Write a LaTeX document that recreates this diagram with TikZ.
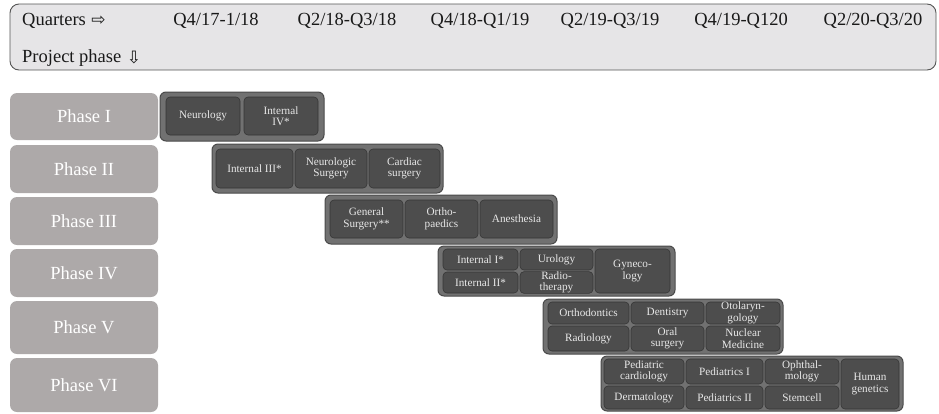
\documentclass[tikz,border=0pt]{standalone}
\usepackage{fontspec}
\setmainfont{Liberation Serif}
\newfontfamily\arrowfont{DejaVu Sans}
\usepackage{tikz}
\usepackage{xcolor}
\usetikzlibrary{positioning}

\definecolor{headfill}{HTML}{E6E5E7}
\definecolor{headline}{HTML}{555555}
\definecolor{phasefill}{HTML}{ADA9A9}
\definecolor{grpfill}{HTML}{717171}
\definecolor{grpline}{HTML}{4A4A4A}
\definecolor{cellfill}{HTML}{4D4D4D}
\definecolor{cellline}{HTML}{363636}
\definecolor{celltext}{HTML}{E8E8E8}

\begin{document}
\begin{tikzpicture}[x=1pt, y=-1pt,
    box/.style args={#1/#2/#3/#4}{minimum width={(#3-#1)*1pt}, minimum height={(#4-#2)*1pt},
        anchor=center, at={({(#1+#3)/2},{(#2+#4)/2})}},
    head/.style={draw=headline, fill=headfill, rounded corners=9pt, line width=0.9pt, inner sep=0pt},
    htext/.style={text=black!90, font=\fontsize{18.5}{20}\selectfont, inner sep=0pt},
    harrow/.style={font=\arrowfont\fontsize{17}{17}\selectfont},
    phase/.style={fill=phasefill, rounded corners=7pt, inner sep=0pt, text=white,
        font=\fontsize{18.5}{20}\selectfont},
    grp/.style={draw=grpline, fill=grpfill, rounded corners=6pt, line width=1pt, inner sep=0pt},
    cell/.style={draw=cellline, fill=cellfill, rounded corners=4pt, line width=0.6pt, inner sep=0pt,
        text=celltext, align=center, font=\fontsize{11.2}{11.5}\selectfont}]
\useasboundingbox (0,0) rectangle (939,413);

% header with the quarters
\node[head, box=10/4/936/70] (hdr) {};
\node[htext, anchor=west] (quarters) at (22,21) {Quarters};
\node[htext, harrow, right=5pt of quarters] (qarrow) {⇨};
\node[htext, anchor=west] (projphase) at (22,58) {Project phase};
\node[htext, harrow, right=5pt of projphase] (parrow) {⇩};
\foreach \i/\cx/\t in {1/216/{Q4/17-1/18}, 2/347/{Q2/18-Q3/18}, 3/480/{Q4/18-Q1/19},
                       4/610/{Q2/19-Q3/19}, 5/741/{Q4/19-Q120}, 6/873/{Q2/20-Q3/20}}
    \node[htext] (q\i) at (\cx,21) {\t};

% phase labels
\foreach \i/\ya/\yb/\t in {1/93/140/I, 2/145/193/II, 3/197/245/III,
                           4/249/297/IV, 5/301/354/V, 6/358/412/VI}
    \node[phase, box=10/\ya/158/\yb] (ph\i) {Phase \t};

% Phase I
\node[grp, box=160/92/324/141] (g1) {};
\foreach \n/\xa/\xb/\t in {neuro/166/240/Neurology, intiv/244/318/{Internal\\IV*}}
    \node[cell, box=\xa/97/\xb/135] (\n) {\t};

% Phase II
\node[grp, box=212/144/443/193] (g2) {};
\foreach \n/\xa/\xb/\t in {intiii/216/293/{Internal III*}, neurosurg/295/367/{Neurologic\\Surgery},
                          cardsurg/369/440/{Cardiac\\surgery}}
    \node[cell, box=\xa/149/\xb/188] (\n) {\t};

% Phase III
\node[grp, box=325/195/557/244] (g3) {};
\foreach \n/\xa/\xb/\t in {gensurg/330/403/{General\\Surgery**}, ortho/405/478/{Ortho-\\paedics},
                          anest/480/553/Anesthesia}
    \node[cell, box=\xa/200/\xb/238] (\n) {\t};

% Phase IV
\node[grp, box=438/246/675/296] (g4) {};
\foreach \n/\xa/\ya/\xb/\yb/\t in {inti/443/249/518/270/{Internal I*}, intii/443/272/518/293/{Internal II*},
                                  uro/520/249/593/270/Urology, radio/520/272/593/293/{Radio-\\therapy},
                                  gyn/595/249/670/293/{Gyneco-\\logy}}
    \node[cell, box=\xa/\ya/\xb/\yb] (\n) {\t};

% Phase V
\node[grp, box=543/299/783/354] (g5) {};
\foreach \n/\xa/\ya/\xb/\yb/\t in {orthod/548/302/629/324/Orthodontics, dent/631/302/704/324/Dentistry,
                                  oto/706/302/780/324/{Otolaryn-\\gology}, radiol/548/326/629/351/Radiology,
                                  oral/631/326/704/351/{Oral\\surgery}, nucl/706/326/780/351/{Nuclear\\Medicine}}
    \node[cell, box=\xa/\ya/\xb/\yb] (\n) {\t};

% Phase VI
\node[grp, box=601/356/903/411] (g6) {};
\foreach \n/\xa/\ya/\xb/\yb/\t in {pedcard/604/359/684/384/{Pediatric\\cardiology}, pedi/686/359/763/384/{Pediatrics I},
                                  ophth/765/359/839/384/{Ophthal-\\mology}, derm/604/386/684/409/Dermatology,
                                  pedii/686/386/763/409/{Pediatrics II}, stem/765/386/839/409/Stemcell,
                                  humgen/841/359/899/409/{Human\\genetics}}
    \node[cell, box=\xa/\ya/\xb/\yb] (\n) {\t};
\end{tikzpicture}
\end{document}
